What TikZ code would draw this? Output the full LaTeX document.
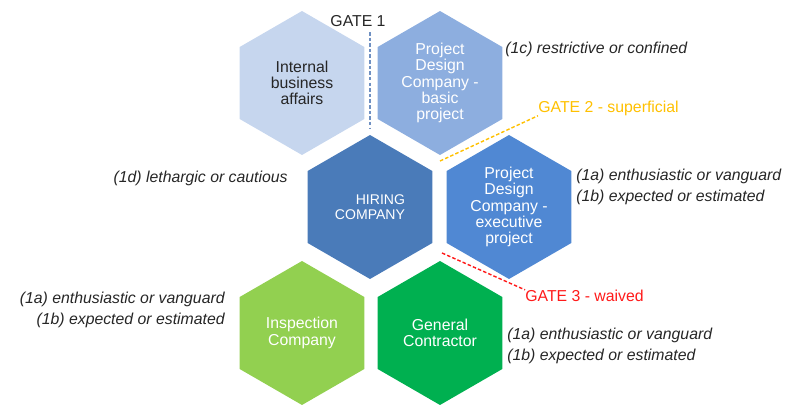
\documentclass[tikz,border=0pt]{standalone}
\usepackage{fontspec}
\setmainfont{Liberation Sans}
\usepackage{xcolor}
\usetikzlibrary{shapes.geometric}
\definecolor{hexpale}{HTML}{C6D6EE}
\definecolor{hexlight}{HTML}{8DAEDF}
\definecolor{hexdark}{HTML}{4A7BB9}
\definecolor{hexmid}{HTML}{5088D3}
\definecolor{hexlime}{HTML}{92D050}
\definecolor{hexgreen}{HTML}{00B050}
\definecolor{gateblue}{HTML}{6F90C2}
\definecolor{gateyellow}{HTML}{FFC000}
\definecolor{gatered}{HTML}{FF1A1A}
\definecolor{notegray}{HTML}{262626}

\tikzset{
    hexa/.style={regular polygon, regular polygon sides=6, shape border rotate=30,
        minimum size=2.88cm, inner sep=0pt, align=center, text=white,
        font=\fontsize{9}{9.3}\selectfont},
    note/.style={inner sep=0pt, text=notegray, font=\fontsize{9}{11.5}\selectfont\itshape},
    gatelbl/.style={inner sep=0pt, font=\fontsize{9}{10}\selectfont},
    gateline/.style={dash pattern=on 2pt off 1.2pt, line width=0.8pt}
}

\begin{document}
\begin{tikzpicture}[x=0.02cm,y=-0.02cm]
    \useasboundingbox (0,0) rectangle (785,406);
    % honeycomb
    \node[hexa,fill=hexpale,text=notegray] (internal) at (302,83) {Internal\\business\\affairs};
    \node[hexa,fill=hexlight] (basic) at (440,83) {Project\\Design\\Company -\\basic\\project};
    \node[hexa,fill=hexdark,align=right,font=\fontsize{8}{8.3}\selectfont] (hiring) at (370,207) {HIRING\\COMPANY};
    \node[hexa,fill=hexmid] (executive) at (509,207) {Project\\Design\\Company -\\executive\\project};
    \node[hexa,fill=hexlime] (inspection) at (302,333) {Inspection\\Company};
    \node[hexa,fill=hexgreen] (contractor) at (440,333) {General\\Contractor};

    % gates
    \node[gatelbl,text=notegray] (gateone) at (358,21) {GATE 1};
    \coordinate (g1top) at (370,32);
    \coordinate (g1bot) at (370,128);
    \draw[gateline,gateblue] (g1top) -- (g1bot);

    \node[gatelbl,text=gateyellow,anchor=west] (gatetwo) at (538,108) {GATE 2 - superficial};
    \coordinate (g2start) at (440,161);
    \draw[gateline,gateyellow] (g2start) -- (gatetwo.south west);

    \node[gatelbl,text=gatered,anchor=west] (gatethree) at (525,296) {GATE 3 - waived};
    \coordinate (g3start) at (442,253);
    \draw[gateline,gatered] (g3start) -- (gatethree.north west);

    % notes
    \node[note,anchor=west] (notec) at (505,49) {(1c) restrictive or confined};
    \node[note,anchor=west,align=left] (noteexec) at (576,187) {(1a) enthusiastic or vanguard\\(1b) expected or estimated};
    \node[note,anchor=east] (noted) at (288,178) {(1d) lethargic or cautious};
    \node[note,anchor=east,align=right] (noteinsp) at (225,310) {(1a) enthusiastic or vanguard\\(1b) expected or estimated};
    \node[note,anchor=west,align=left] (notecontr) at (507,346) {(1a) enthusiastic or vanguard\\(1b) expected or estimated};
\end{tikzpicture}
\end{document}
